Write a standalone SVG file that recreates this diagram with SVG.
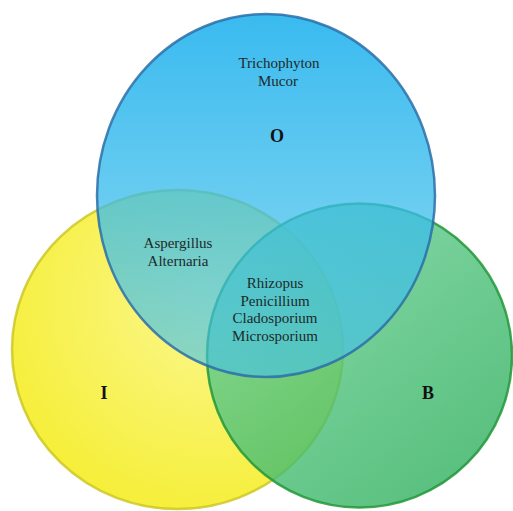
<svg xmlns="http://www.w3.org/2000/svg" width="513" height="511" viewBox="0 0 513 511">
  <defs>
    <radialGradient id="gY" cx="0.6" cy="0.35" r="0.75">
      <stop offset="0" stop-color="#fbf786"/>
      <stop offset="1" stop-color="#f4ec1e"/>
    </radialGradient>
    <linearGradient id="gG" x1="0.2" y1="0.1" x2="0.9" y2="0.95">
      <stop offset="0" stop-color="#66cf92"/>
      <stop offset="1" stop-color="#2cae5a"/>
    </linearGradient>
    <linearGradient id="gB" x1="0" y1="0" x2="0" y2="1">
      <stop offset="0" stop-color="#28b4ee" stop-opacity="0.92"/>
      <stop offset="1" stop-color="#46c2ea" stop-opacity="0.6"/>
    </linearGradient>
  </defs>
  <style>
    .lbl { font-family: "Liberation Serif", "Times New Roman", serif; font-size: 15px; fill: #1e2a2a; text-anchor: middle; }
    .set { font-family: "Liberation Serif", "Times New Roman", serif; font-size: 18px; font-weight: bold; fill: #111; text-anchor: middle; }
  </style>
  <rect width="513" height="511" fill="#ffffff"/>
  <g id="circles">
    <g id="set-I">
      <ellipse cx="177.5" cy="349.5" rx="165.5" ry="159.5" fill="url(#gY)" fill-opacity="0.92" stroke="#c9c41c" stroke-opacity="0.8" stroke-width="2.5"/>
    </g>
    <g id="set-B">
      <ellipse cx="359.5" cy="355.5" rx="152.5" ry="152" fill="url(#gG)" fill-opacity="0.8" stroke="#23963a" stroke-opacity="0.85" stroke-width="2.5"/>
    </g>
    <g id="set-O">
      <ellipse cx="266" cy="195.5" rx="169" ry="181.5" fill="url(#gB)" stroke="#2a6fa8" stroke-opacity="0.85" stroke-width="2.5"/>
    </g>
  </g>
  <g id="labels">
    <text class="lbl" x="279" y="68">Trichophyton</text>
    <text class="lbl" x="278" y="86">Mucor</text>
    <text class="set" x="277" y="142">O</text>
    <text class="lbl" x="178" y="248">Aspergillus</text>
    <text class="lbl" x="178" y="266">Alternaria</text>
    <text class="lbl" x="275" y="288">Rhizopus</text>
    <text class="lbl" x="275" y="305.5">Penicillium</text>
    <text class="lbl" x="275" y="323">Cladosporium</text>
    <text class="lbl" x="275" y="340.5">Microsporium</text>
    <text class="set" x="104" y="399">I</text>
    <text class="set" x="428" y="399">B</text>
  </g>
</svg>
